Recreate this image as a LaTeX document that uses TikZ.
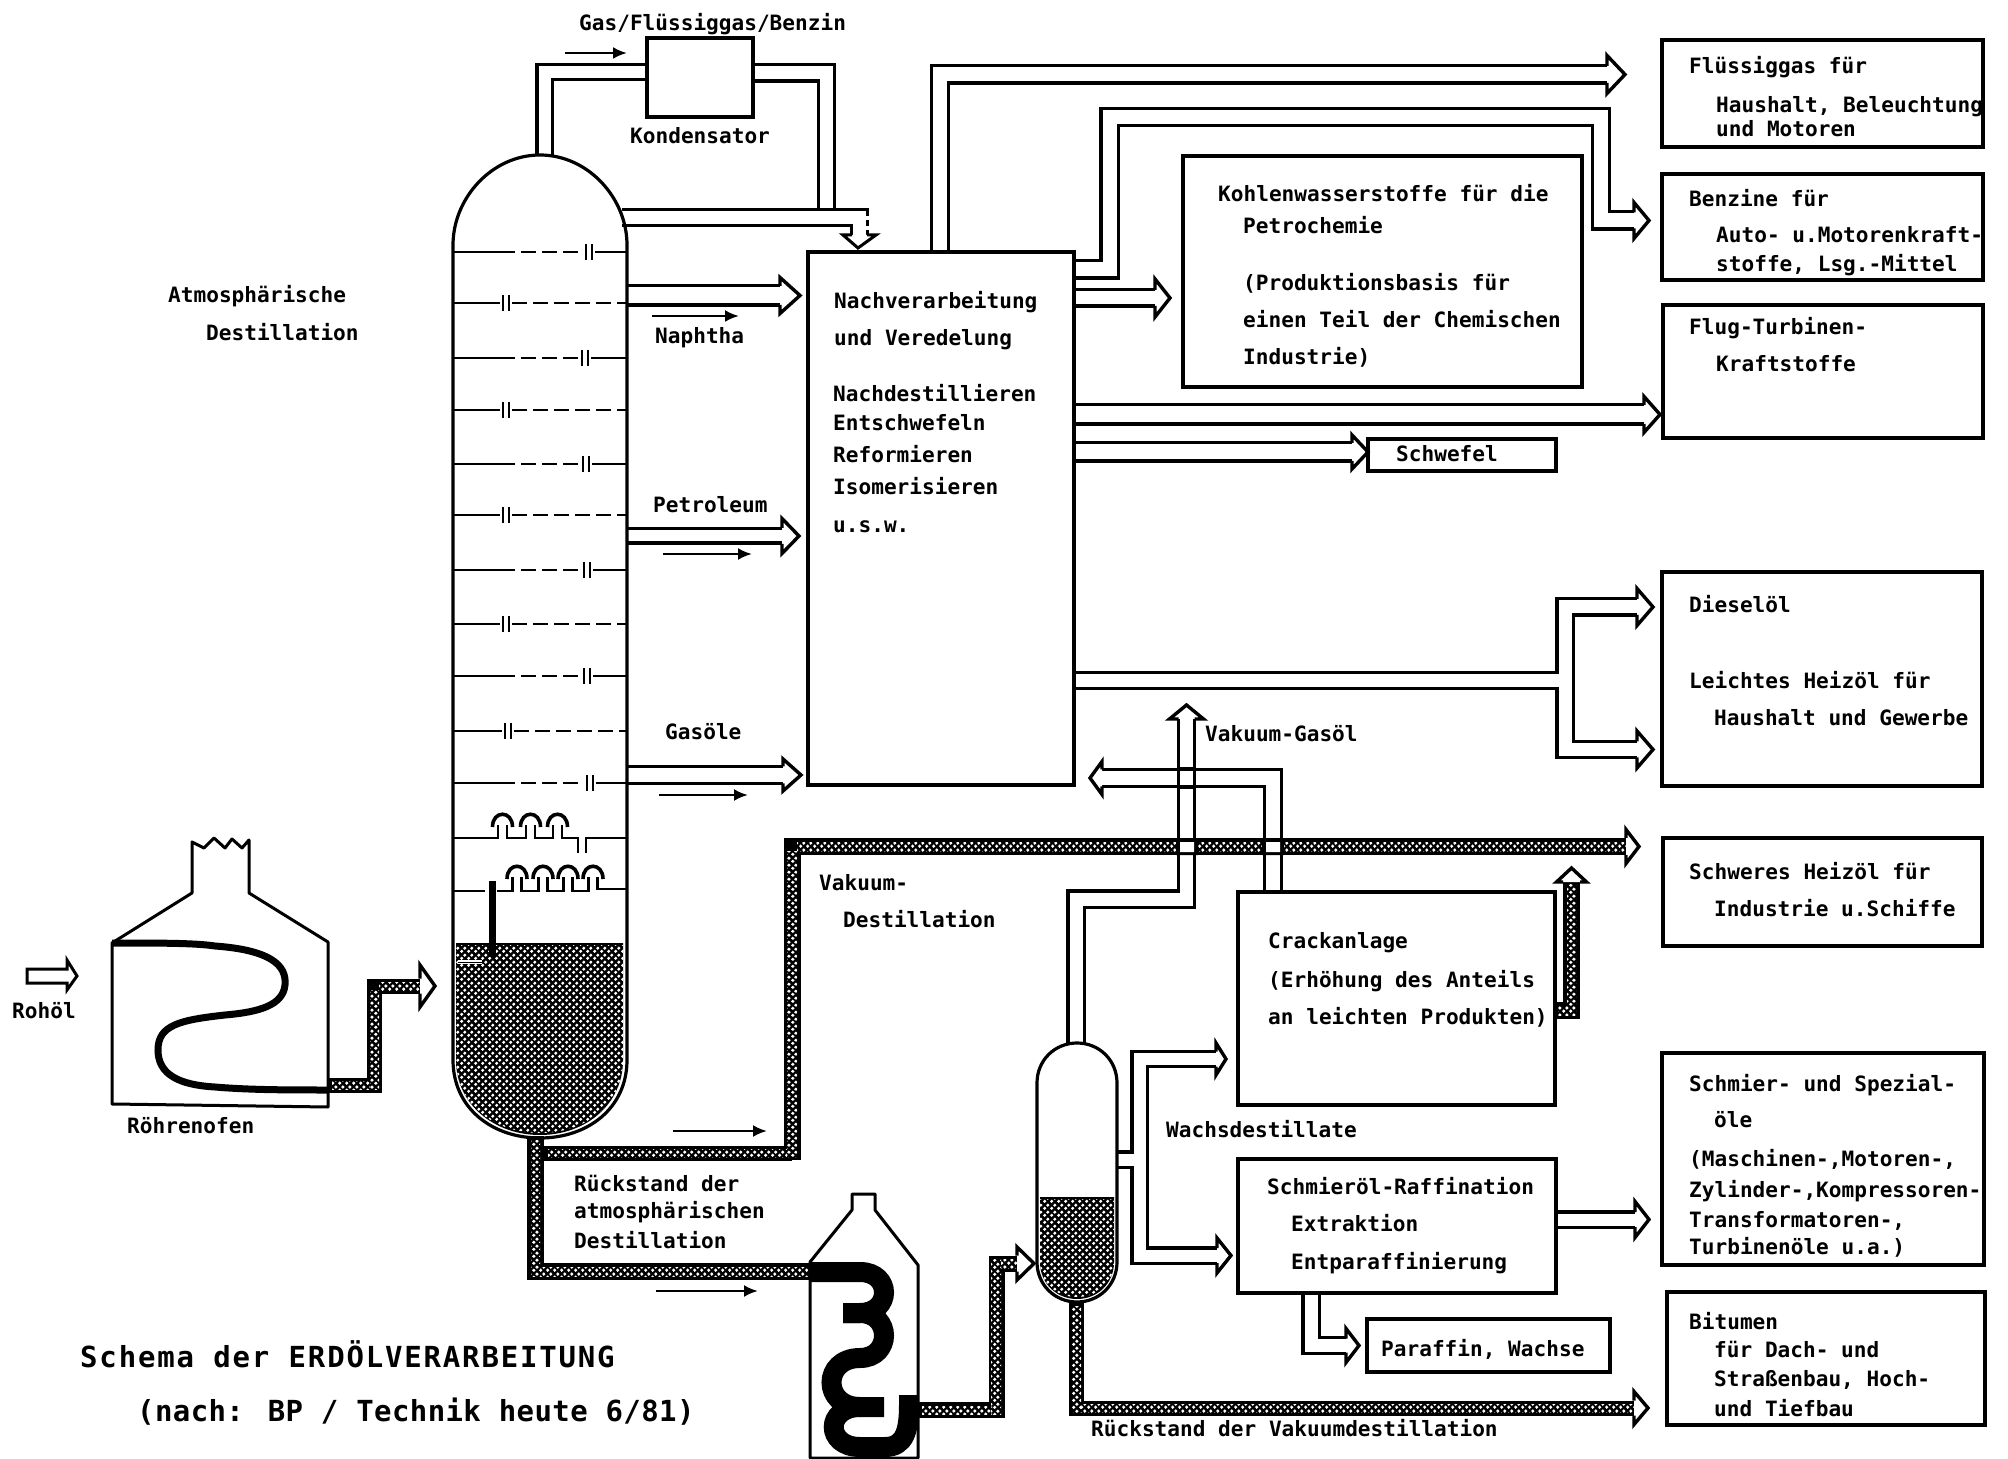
\documentclass[tikz,border=0pt]{standalone}
\usepackage{fontspec}
\usetikzlibrary{arrows.meta,patterns}
\newfontfamily\dm{DejaVu Sans Mono}
\newfontfamily\titleA[LetterSpace=6.3]{DejaVu Sans Mono}
\newfontfamily\titleB[LetterSpace=1.4]{DejaVu Sans Mono}
\pgfdeclarelayer{front}
\pgfsetlayers{main,front}
\pgfdeclarepatternformonly{rdots}{\pgfqpoint{0pt}{0pt}}{\pgfqpoint{3.6pt}{3.6pt}}{\pgfqpoint{3.6pt}{3.6pt}}{%
  \pgfpathcircle{\pgfqpoint{0.95pt}{0.95pt}}{0.95pt}%
  \pgfpathcircle{\pgfqpoint{2.65pt}{2.65pt}}{0.95pt}%
  \pgfusepath{fill}}
\tikzset{
  ln/.style={line width=1.5pt,line join=miter},
  tray/.style={line width=1.3pt},
  trd/.style={dash pattern=on 7.5pt off 3pt},
  barln/.style={line width=1.4pt},
  boxn/.style={draw,line width=1.6pt,inner sep=0pt,outer sep=0pt,rectangle},
  lbl/.style={anchor=base west,inner sep=0pt,outer sep=0pt,xshift=-0.4pt,yshift=0.4pt,font=\dm\bfseries\fontsize{10.55pt}{12pt}\selectfont},
  pipe/.style={line width=1.6pt,double=white,double distance=#1},
  pipe/.default=6.5pt,
  hstroke/.style={line width=#1,draw=black},
  arr/.style={line width=1.3pt,-{Latex[length=7pt,width=6pt]}},
  coila/.style={line width=3.5pt,line cap=butt},
  coilb/.style={line width=10pt,line cap=butt},
  wnd/.style={fill=white,draw=none}
}
\newcommand\tx[4]{\node[lbl] (#1) at (#2,#3) {#4};}
\newcommand\bx[5]{%
  \pgfmathsetmacro\bw{(#4-#2)*0.5}\pgfmathsetmacro\bh{(#5-#3)*0.5}%
  \node[boxn,minimum width=\bw pt,minimum height=\bh pt] (#1) at ({(#2+#4)/2},{(#3+#5)/2}) {};}
\newcommand\hd[5]{\begin{scope}[shift={(#1)},rotate=#2]
  \draw[ln,line width=1.7pt,fill=white] (0,#3)--(0,#4)--(#5,0)--(0,-#4)--(0,-#3);\end{scope}}
\newcommand\dr[4]{\fill[pattern=rdots,pattern color=white] (#1,#2) rectangle (#3,#4);}
\newcommand\trayR[2]{%
  \draw[tray] (453,#1)--(500,#1);
  \draw[tray,trd] (500,#1)--({#2-3},#1);
  \draw[barln] (#2,{#1-8})--(#2,{#1+8}) ({#2+6},{#1-8})--({#2+6},{#1+8});
  \draw[tray] ({#2+9},#1)--(627,#1);}
\newcommand\trayL[2]{%
  \draw[tray] (453,#1)--({#2-3},#1);
  \draw[barln] (#2,{#1-8})--(#2,{#1+8}) ({#2+6},{#1-8})--({#2+6},{#1+8});
  \draw[tray,trd] ({#2+9},#1)--(627,#1);}
\newcommand\bub[2]{\draw[line width=1.8pt] ({#1-10},{#2-10}) .. controls ({#1-10},{#2-27}) and ({#1+10},{#2-27}) .. ({#1+10},{#2-10});}
\begin{document}
\begin{tikzpicture}[x=0.5pt,y=-0.5pt]
\useasboundingbox (0,0) rectangle (2008,1459);
% ---------- named boxes and anchors
\begin{pgfonlayer}{front}
\bx{kond}{647}{38}{753}{117}
\bx{nv}{808}{252}{1074}{785}
\bx{kw}{1183}{156}{1582}{387}
\bx{schw}{1368}{439}{1556}{471}
\bx{flg}{1662}{40}{1983}{147}
\bx{bnz}{1662}{174}{1983}{280}
\bx{flug}{1663}{305}{1983}{438}
\bx{dsl}{1662}{572}{1982}{786}
\bx{shz}{1663}{838}{1982}{946}
\bx{spz}{1662}{1053}{1984}{1265}
\bx{bit}{1667}{1292}{1985}{1425}
\bx{crack}{1238}{892}{1555}{1105}
\bx{raff}{1238}{1159}{1556}{1293}
\bx{par}{1367}{1319}{1610}{1372}
% tower
\draw[line width=1.6pt] (453,245) .. controls (453,198) and (492,155) .. (540,155) .. controls (588,155) and (627,198) .. (627,245) -- (627,1060) .. controls (627,1108) and (588,1138) .. (540,1138) .. controls (492,1138) and (453,1108) .. (453,1060) -- cycle;
\draw[line width=1.6pt] (1037,1083) .. controls (1037,1060) and (1055,1043) .. (1077,1043) .. controls (1099,1043) and (1117,1060) .. (1117,1083) -- (1117,1262) .. controls (1117,1285) and (1099,1302) .. (1077,1302) .. controls (1055,1302) and (1037,1285) .. (1037,1262) -- cycle;
% furnaces
\draw[line width=1.5pt,line join=round] (112,943) -- (192,893) -- (192,842) -- (204,848) -- (214,838) -- (225,848) -- (232,839) -- (242,848) -- (249,840) -- (249,893) -- (328,942) -- (328,1107) -- (112,1104) -- cycle;
\draw[line width=1.5pt,line join=round] (810,1262) -- (852,1210) -- (852,1194) -- (875,1194) -- (875,1210) -- (918,1265) -- (918,1458) -- (810,1458) -- cycle;
\end{pgfonlayer}
\coordinate (twR) at (627,0);
\coordinate (colR) at (1117,0);
\coordinate (f1E) at (328,0);
\coordinate (f2E) at (918,0);
\coordinate (naE) at (780,295.5);
\coordinate (peE) at (782,536);
\coordinate (gsE) at (783,775);
\coordinate (p1E) at (1607,74.5);
\coordinate (p2E) at (1634,220.5);
\coordinate (p3E) at (1155,298);
\coordinate (p4E) at (1644,414.5);
\coordinate (p5E) at (1352,452);
\coordinate (dsA) at (1637,607);
\coordinate (dsB) at (1637,749.5);
\coordinate (crE) at (1102,778);
\coordinate (gaE) at (1186.5,719);
\coordinate (waA) at (1216,1059);
\coordinate (waB) at (1217,1255.5);
\coordinate (raE) at (1635,1219.5);
\coordinate (paE) at (1346,1345.5);
\coordinate (vmE) at (1626,846.5);
\coordinate (coE) at (1571.5,882);
\coordinate (f1H) at (420,986);
\coordinate (f2H) at (1017,1263.5);
\coordinate (biE) at (1634,1408);
\coordinate (kkE) at (859.5,235);
% ---------- hollow pipes
\draw[pipe=6pt] (544.5,155) -- (544.5,72) -- (kond.west |- 0,72);
\draw[pipe=6.5pt] (kond.east |- 0,73) -- (826.5,73) -- (826.5,209);
\draw[pipe=6.5pt] (622,217.5) -- (859.5,217.5) -- (kkE);
\draw[white,line width=2pt] (867,216) -- (867,220) (867,226) -- (867,230);
\draw[pipe=8pt] (twR |- 0,295.5) -- (naE);
\draw[pipe=5.5pt] (twR |- 0,536) -- (peE);
\draw[pipe=7pt] (twR |- 0,775) -- (gsE);
\draw[pipe=7pt] (940,252) -- (940,74.5) -- (p1E);
\draw[pipe=7pt] (nv.east |- 0,269.5) -- (1109.5,269.5) -- (1109.5,117) -- (1601,117) -- (1601,220.5) -- (p2E);
\draw[pipe=6.5pt] (nv.east |- 0,298) -- (p3E);
\draw[pipe=8pt] (nv.east |- 0,414.5) -- (p4E);
\draw[pipe=7.5pt] (nv.east |- 0,452) -- (p5E);
\draw[pipe=6.5pt] (nv.east |- 0,680.5) -- (1565,680.5) -- (1565,607) -- (dsA);
\draw[pipe=6.5pt] (1565,687) -- (1565,749.5) -- (dsB);
\draw[pipe=7pt] (1272.75,892) -- (1272.75,778) -- (crE);
\draw[pipe=6.5pt] (1076,1045) -- (1076,899) -- (1186.5,899) -- (gaE);
\draw[line width=1.6pt] (1177,769) -- (1196,769) (1177,787) -- (1196,787);
\draw[pipe=6pt] (colR |- 0,1159.5) -- (1139.5,1159.5) -- (1139.5,1059) -- (waA);
\draw[pipe=6pt] (1139.5,1166) -- (1139.5,1255.5) -- (waB);
\draw[pipe=6pt] (raff.east |- 0,1219.5) -- (raE);
\draw[pipe=6.5pt] (1311,1293) -- (1311,1345.5) -- (paE);
% ---------- hatched pipes
\draw[hstroke=8.5pt] (535.5,1136) -- (535.5,1271.5) -- (810,1271.5);
\draw[hstroke=7.5pt] (540,1153.5) -- (792,1153.5);
\draw[hstroke=8.5pt] (792,1160) -- (792,846.5) -- (vmE);
\dr{531}{1140}{540}{1276}\dr{540}{1267}{808}{1276}
\dr{548}{1149}{787}{1157}\dr{787}{851}{797}{1157}\dr{797}{842}{1626}{851}
\draw[hstroke=7.5pt] (f1E |- 0,1085) -- (374.5,1085) -- (374.5,986) -- (f1H);
\dr{332}{1081}{370}{1089}\dr{370}{990}{379}{1089}\dr{379}{982}{420}{990}
\draw[hstroke=8pt] (f2E |- 0,1410) -- (996.5,1410) -- (996.5,1263.5) -- (f2H);
\dr{922}{1406}{992}{1414}\dr{991}{1259}{1001}{1414}\dr{1001}{1259}{1017}{1268}
\draw[hstroke=7.5pt] (1076.5,1302) -- (1076.5,1408) -- (biE);
\dr{1072}{1306}{1081}{1412}\dr{1081}{1404}{1634}{1412}
\draw[hstroke=8.5pt] (crack.east |- 0,1010.5) -- (1571.5,1010.5) -- (coE);
\dr{1558}{1006}{1576}{1015}\dr{1567}{884}{1576}{1006}
% crossings
\fill[black] (1176,839) rectangle (1198,855) (1262,839) rectangle (1284,855);
\fill[wnd] (1180,842) rectangle (1194,852) (1266,842) rectangle (1280,852);
% ---------- arrowheads
\hd{naE}{0}{9.5}{18}{20}
\hd{peE}{0}{8}{17.5}{17}
\hd{gsE}{0}{8.5}{16}{18}
\hd{p1E}{0}{8.5}{19}{18}
\hd{p2E}{0}{8}{18}{15}
\hd{p3E}{0}{8}{19}{15}
\hd{p4E}{0}{9.5}{18}{16}
\hd{p5E}{0}{9}{17}{16}
\hd{dsA}{0}{8}{18.5}{16}
\hd{dsB}{0}{8}{18.5}{16}
\hd{crE}{180}{8.5}{16.5}{12}
\hd{gaE}{90}{8}{17}{14}
\hd{waA}{0}{7.5}{16}{10}
\hd{waB}{0}{7.5}{17.5}{14}
\hd{raE}{0}{7.5}{18}{14}
\hd{paE}{0}{7}{17}{13}
\hd{vmE}{0}{8.5}{17}{13}
\hd{coE}{90}{8.5}{15}{14}
\hd{f1H}{0}{7.5}{21}{15}
\hd{f2H}{0}{8}{16.5}{17}
\hd{biE}{0}{7.5}{16.5}{14}
\draw[ln,fill=white] (852,235) -- (843,235) -- (858,248) -- (876,235) -- (867,235);
\draw[ln,fill=white] (27,969) -- (67,969) -- (67,960) -- (77,976) -- (67,990) -- (67,983) -- (27,983) -- cycle;
% ---------- tower interior
\trayR{252}{586}\trayL{303}{503}\trayR{358}{582}\trayL{410}{503}\trayR{464}{583}\trayL{515}{503}
\trayR{570}{584}\trayL{624}{503}\trayR{676}{584}\trayL{731}{505}\trayR{783}{587}
\draw[tray] (453,838) -- (498,838) -- (498,825) (507,825) -- (507,838) -- (526,838) -- (526,825) (535,825) -- (535,838) -- (553,838) -- (553,825) (562,825) -- (562,838) -- (578,838) -- (578,853) (586,853) -- (586,838) -- (627,838);
\bub{502.5}{837}\bub{530.5}{837}\bub{557.5}{837}
\draw[tray] (453,891) -- (485,891) (497,891) -- (512.5,891) -- (512.5,877) (521.5,877) -- (521.5,891) -- (538.5,891) -- (538.5,877) (547.5,877) -- (547.5,891) -- (563.5,891) -- (563.5,877) (572.5,877) -- (572.5,891) -- (588.5,891) -- (588.5,877) (597.5,877) -- (597.5,889) -- (627,889);
\bub{517}{889}\bub{543}{889}\bub{568}{889}\bub{593}{889}
\fill[black] (456,943) -- (623,943) -- (623,1060) .. controls (623,1105) and (585,1135) .. (540,1135) .. controls (495,1135) and (456,1105) .. (456,1060) -- cycle;
\fill[pattern=rdots,pattern color=white] (456,945) -- (623,945) -- (623,1060) .. controls (623,1105) and (585,1133) .. (540,1133) .. controls (495,1133) and (456,1105) .. (456,1060) -- cycle;
\draw[line width=3.5pt] (492,881) -- (492,957);
\draw[white,line width=2pt] (458,962) -- (482,962);
\draw[line width=.5pt] (458,962) -- (482,962);
% column liquid
\fill[black] (1040,1197) -- (1114,1197) -- (1114,1262) .. controls (1114,1284) and (1097,1299) .. (1077,1299) .. controls (1057,1299) and (1040,1284) .. (1040,1262) -- cycle;
\fill[pattern=rdots,pattern color=white] (1040,1199) -- (1114,1199) -- (1114,1262) .. controls (1114,1284) and (1097,1297) .. (1077,1297) .. controls (1057,1297) and (1040,1284) .. (1040,1262) -- cycle;
% ---------- coils
\draw[coila] (112,943) .. controls (160,943) and (195,943) .. (215,946) .. controls (270,950) and (287,965) .. (285,985) .. controls (283,1005) and (260,1012) .. (225,1015) .. controls (180,1020) and (158,1025) .. (158,1050) .. controls (158,1075) and (180,1085) .. (215,1087) .. controls (250,1090) and (290,1090) .. (f1E |- 0,1090);
\draw[coilb] (810,1272) -- (860,1272) .. controls (892,1272) and (892,1313) .. (860,1313) -- (843,1313);
\draw[coilb] (843,1313) -- (860,1313) .. controls (892,1313) and (892,1358) .. (860,1358) .. controls (822,1358) and (822,1407) .. (860,1407) -- (884,1407);
\draw[coilb] (860,1407) .. controls (825,1407) and (825,1447) .. (860,1447) -- (885,1447) .. controls (905,1447) and (909,1430) .. (909,1405) -- (f2E |- 0,1405);
% ---------- small flow arrows
\coordinate (a1s) at (565,53);\coordinate (a1e) at (627,53);
\coordinate (a2s) at (652,316);\coordinate (a2e) at (739,316);
\coordinate (a3s) at (663,554);\coordinate (a3e) at (752,554);
\coordinate (a4s) at (659,795);\coordinate (a4e) at (748,795);
\coordinate (a5s) at (673,1131);\coordinate (a5e) at (767,1131);
\coordinate (a6s) at (656,1291);\coordinate (a6e) at (758,1291);
\draw[arr] (a1s) -- (a1e);\draw[arr] (a2s) -- (a2e);\draw[arr] (a3s) -- (a3e);
\draw[arr] (a4s) -- (a4e);\draw[arr] (a5s) -- (a5e);\draw[arr] (a6s) -- (a6e);
% ---------- texts
\begin{pgfonlayer}{front}
\tx{t1}{580}{31}{Gas/Flüssiggas/Benzin}
\tx{t2}{631}{144}{Kondensator}
\tx{t3}{656}{344}{Naphtha}
\tx{t4}{654}{513}{Petroleum}
\tx{t5}{666}{740}{Gasöle}
\tx{t6}{169}{303}{Atmosphärische}
\tx{t7}{207}{341}{Destillation}
\tx{t8}{835}{309}{Nachverarbeitung}
\tx{t9}{835}{346}{und Veredelung}
\tx{t10}{834}{402}{Nachdestillieren}
\tx{t11}{834}{431}{Entschwefeln}
\tx{t12}{834}{463}{Reformieren}
\tx{t13}{834}{495}{Isomerisieren}
\tx{t14}{834}{533}{u.s.w.}
\tx{t15}{1219}{202}{Kohlenwasserstoffe für die}
\tx{t16}{1244}{234}{Petrochemie}
\tx{t17}{1244}{291}{(Produktionsbasis für}
\tx{t18}{1244}{328}{einen Teil der Chemischen}
\tx{t19}{1244}{365}{Industrie)}
\tx{t20}{1397}{462}{Schwefel}
\tx{t21}{1690}{74}{Flüssiggas für}
\tx{t22}{1717}{113}{Haushalt, Beleuchtung}
\tx{t23}{1717}{137}{und Motoren}
\tx{t24}{1690}{207}{Benzine für}
\tx{t25}{1717}{243}{Auto- u.Motorenkraft-}
\tx{t26}{1717}{272}{stoffe, Lsg.-Mittel}
\tx{t27}{1690}{335}{Flug-Turbinen-}
\tx{t28}{1717}{372}{Kraftstoffe}
\tx{t29}{1690}{613}{Dieselöl}
\tx{t30}{1690}{689}{Leichtes Heizöl für}
\tx{t31}{1715}{726}{Haushalt und Gewerbe}
\tx{t32}{1690}{880}{Schweres Heizöl für}
\tx{t33}{1715}{917}{Industrie u.Schiffe}
\tx{t34}{1690}{1092}{Schmier- und Spezial-}
\tx{t35}{1715}{1128}{öle}
\tx{t36}{1690}{1167}{(Maschinen-,Motoren-,}
\tx{t37}{1690}{1198}{Zylinder-,Kompressoren-}
\tx{t38}{1690}{1228}{Transformatoren-,}
\tx{t39}{1690}{1255}{Turbinenöle u.a.)}
\tx{t40}{1690}{1330}{Bitumen}
\tx{t41}{1715}{1358}{für Dach- und}
\tx{t42}{1715}{1387}{Straßenbau, Hoch-}
\tx{t43}{1715}{1417}{und Tiefbau}
\tx{t44}{820}{891}{Vakuum-}
\tx{t45}{844}{928}{Destillation}
\tx{t46}{1206}{742}{Vakuum-Gasöl}
\tx{t47}{1269}{949}{Crackanlage}
\tx{t48}{1269}{988}{(Erhöhung des Anteils}
\tx{t49}{1269}{1025}{an leichten Produkten)}
\tx{t50}{1167}{1138}{Wachsdestillate}
\tx{t51}{1268}{1195}{Schmieröl-Raffination}
\tx{t52}{1292}{1232}{Extraktion}
\tx{t53}{1292}{1270}{Entparaffinierung}
\tx{t54}{1382}{1357}{Paraffin, Wachse}
\tx{t55}{575}{1192}{Rückstand der}
\tx{t56}{575}{1219}{atmosphärischen}
\tx{t57}{575}{1249}{Destillation}
\tx{t58}{1092}{1437}{Rückstand der Vakuumdestillation}
\tx{t59}{13}{1019}{Rohöl}
\tx{t60}{128}{1134}{Röhrenofen}
\node[lbl,font=\titleA\bfseries\fontsize{14.5pt}{16pt}\selectfont] (t61) at (81,1368) {Schema der ERDÖLVERARBEITUNG};
\node[lbl,font=\titleB\bfseries\fontsize{14.5pt}{16pt}\selectfont] (t62) at (138,1422) {(nach: BP / Technik heute 6/81)};
\end{pgfonlayer}
\end{tikzpicture}
\end{document}
